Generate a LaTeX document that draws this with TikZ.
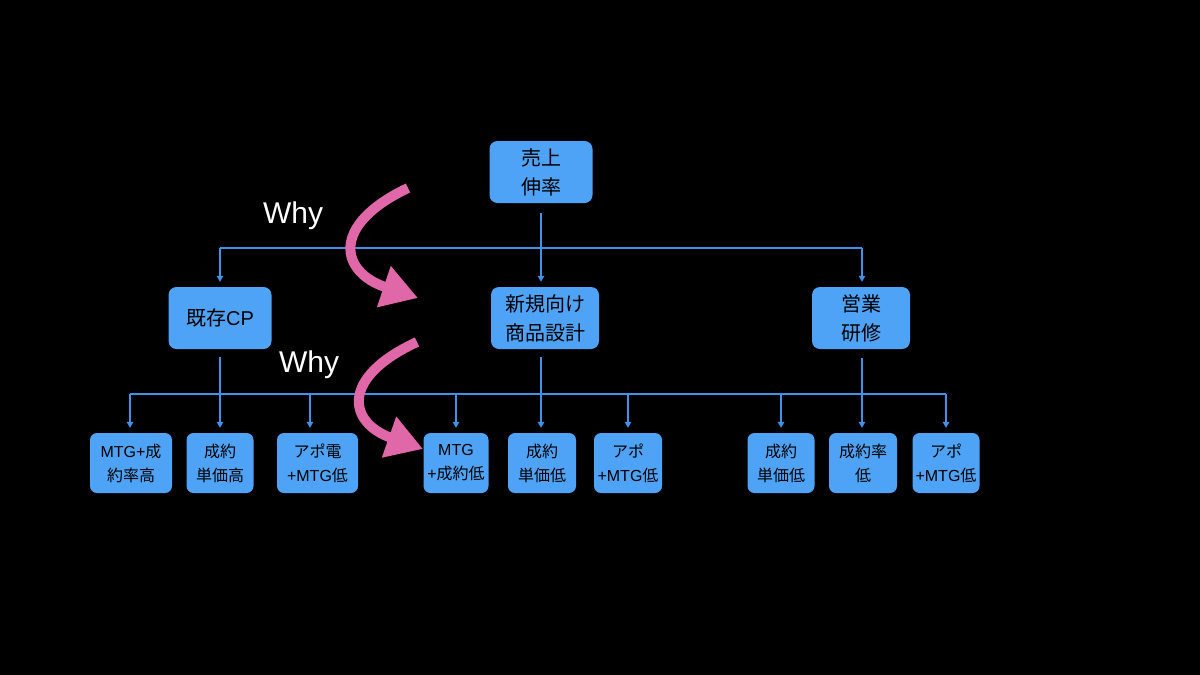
\documentclass[tikz,border=0pt]{standalone}
\usepackage{fontspec}
\setmainfont{Liberation Sans}
\newfontfamily\jp{Noto Sans CJK JP}
\usetikzlibrary{arrows.meta}
\definecolor{boxblue}{HTML}{4FA3F7}
\definecolor{lineblue}{HTML}{3F92E8}
\definecolor{whypink}{HTML}{E068A8}
\tikzset{
  bigbox/.style={draw=none, fill=boxblue, rounded corners=8pt, minimum height=62pt, inner sep=0pt, align=center, text=black, font=\fontsize{20}{29}\selectfont},
  smallbox/.style={draw=none, fill=boxblue, rounded corners=7pt, minimum height=60pt, inner sep=0pt, align=center, text=black, font=\fontsize{16}{24}\selectfont},
  conn/.style={draw=lineblue, line width=1.3pt, -{Triangle[length=6pt,width=6.5pt]}, shorten >=5pt},
  bus/.style={draw=lineblue, line width=1.3pt},
  whyarrow/.style={draw=whypink, line width=10pt, -{Triangle[length=36pt,width=41pt]}},
  whytext/.style={text=white, font=\fontsize{30}{36}\selectfont, anchor=base}
}
\begin{document}
\begin{tikzpicture}[x=1pt, y=-1pt]
\fill[black] (0,0) rectangle (1200,675);
\useasboundingbox (0,0) rectangle (1200,675);

% level 1
\node[bigbox, minimum width=103pt] (top) at (541,172) {{\jp 売上}\\{\jp 伸率}};
% level 2
\node[bigbox, minimum width=103pt] (kizon) at (220,318) {{\jp 既存}CP};
\node[bigbox, minimum width=108pt] (shinki) at (545,318) {{\jp 新規向け}\\{\jp 商品設計}};
\node[bigbox, minimum width=98pt] (eigyo) at (861,318) {{\jp 営業}\\{\jp 研修}};
% level 3
\node[smallbox, minimum width=82pt] (c1) at (131,463) {MTG+{\jp 成}\\{\jp 約率高}};
\node[smallbox, minimum width=67pt] (c2) at (220,463) {{\jp 成約}\\{\jp 単価高}};
\node[smallbox, minimum width=81pt] (c3) at (317.5,463) {{\jp アポ電}\\+MTG{\jp 低}};
\node[smallbox, minimum width=65pt] (c4) at (456,463) {MTG\\+{\jp 成約低}};
\node[smallbox, minimum width=68pt] (c5) at (542,463) {{\jp 成約}\\{\jp 単価低}};
\node[smallbox, minimum width=68pt] (c6) at (628,463) {{\jp アポ}\\+MTG{\jp 低}};
\node[smallbox, minimum width=67pt] (c7) at (781,463) {{\jp 成約}\\{\jp 単価低}};
\node[smallbox, minimum width=68pt] (c8) at (863,463) {{\jp 成約率}\\{\jp 低}};
\node[smallbox, minimum width=67pt] (c9) at (946,463) {{\jp アポ}\\+MTG{\jp 低}};

% bus coordinates
\coordinate (b1l) at (220,248);
\coordinate (b1r) at (862,248);
\coordinate (b2l) at (130,394);
\coordinate (b2r) at (946,394);
\coordinate (j1) at (130,394);
\coordinate (j3) at (310,394);
\coordinate (j4) at (456,394);
\coordinate (j6) at (628,394);
\coordinate (j7) at (781,394);
\coordinate (j9) at (946,394);

% level 1 -> level 2
\draw[bus] (b1l) -- (b1r);
\draw[conn, shorten <=10pt] (top.south) -- (top.south |- shinki.north);
\draw[conn] (b1l) -- (b1l |- kizon.north);
\draw[conn] (b1r) -- (b1r |- eigyo.north);

% level 2 -> level 3
\draw[bus] (b2l) -- (b2r);
\draw[conn, shorten <=8pt] (kizon.south) -- (kizon.south |- c2.north);
\draw[conn, shorten <=8pt] (top.south |- shinki.south) -- (top.south |- c5.north);
\draw[conn, shorten <=9pt] (b1r |- eigyo.south) -- (b1r |- c8.north);
\draw[conn] (j1) -- (j1 |- c1.north);
\draw[conn] (j3) -- (j3 |- c3.north);
\draw[conn] (j4) -- (j4 |- c4.north);
\draw[conn] (j6) -- (j6 |- c6.north);
\draw[conn] (j7) -- (j7 |- c7.north);
\draw[conn] (j9) -- (j9 |- c9.north);

% Why arrows
\coordinate (w1s) at (408,188);
\coordinate (w1e) at (418,298);
\coordinate (w2s) at (417,342);
\coordinate (w2e) at (423,449);
\draw[whyarrow] (w1s) .. controls (330,225) and (340,272) .. (w1e);
\draw[whyarrow] (w2s) .. controls (339,378) and (349,423) .. (w2e);
\node[whytext] (why1) at (293,223) {Why};
\node[whytext] (why2) at (309,372) {Why};
\end{tikzpicture}
\end{document}
